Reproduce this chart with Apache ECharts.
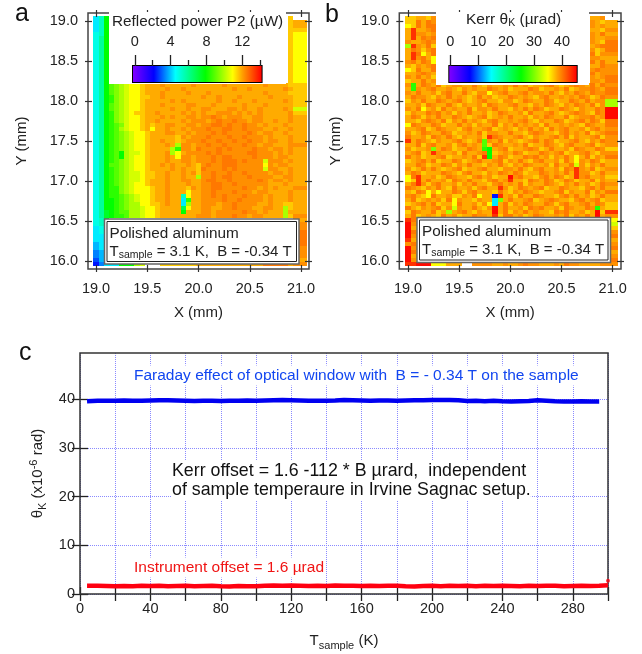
<!DOCTYPE html>
<html><head><meta charset="utf-8"><style>html,body{margin:0;padding:0;background:#fff}#c{width:642px;height:654px}</style>
<script src="https://cdn.jsdelivr.net/npm/echarts@6/dist/echarts.min.js"></script></head>
<body><div id="c"></div>
<script>
// Cell codes: position in this string picks the value in powerLevels / kerrLevels ('.' = no scan data)
const levelCodes = "0123456789abcdefghijklmnopqrs";
const powerLevels = [0,0.5,1,1.5,2,2.5,3,3.5,4,4.5,5,5.5,6,6.5,7,7.5,8,8.5,9,9.5,10,10.5,11,11.6,11.95,12.3,12.6,13.5,14];
const kerrLevels = [0,1.6,3.2,4.8,6.4,8,9.6,11.2,12.8,14.4,16,17.6,19.2,20.8,22.4,24,25.6,27.2,28.8,30.4,32,33.6,35.3,37.2,38.4,39.4,40.4,43.5,45.2];
const HOLE = "..... ..... ..... ..... ..... ..... ";
const BOX  = "..... ..... ..... ..... ..... ..... .... ";

// Panel a: reflected power map, one string per scan row, top row first
const powerRows = [
"9bg.. "+HOLE+"...n.","9bg.. "+HOLE+"...no","9bg.. "+HOLE+"...no","9bg.. "+HOLE+"...nn",
"abg.. "+HOLE+"...nm","acg.. "+HOLE+"...nm","acg.. "+HOLE+"...nm","acg.. "+HOLE+"...nm",
"acg.. "+HOLE+"...nm","acg.. "+HOLE+"...nm","acg.. "+HOLE+"...nm","acg.. "+HOLE+"...nm",
"acg.. "+HOLE+"...nm","acg.. "+HOLE+"...nm","acg.. "+HOLE+"...nm","acg.. "+HOLE+"...nm",
"acg.. "+HOLE+"...nm",
"acgij klmmn ooopo oooop ooooo poooo ooopo ooonn",
"acgij klmmn oooop oopoo ooooo oopoo poooo oopon",
"acgij klmmn ooopo ooopo oopoo ooooo ooopo ooonn",
"acghj klmmn noopo ooooo opoop ooopo oooop oooon",
"acghj klmmn ooooo popoo oooop oopoo opooo oopon",
"acgij klmmn ooopo ooopp ooopo oooop ooopo oooon",
"acgij klmmn ooooo poopo oppoo oppop oopoo oopol",
"acghj klmnn oopoo oopop opoop ppopo popoo ooopn",
"acghj klmmn ooopo poopp oppqp opppo oppoo ooopo",
"acghj klmmn oopoo oopop ppopq ppqpp oppoo poopo",
"acghi jlmmn onoop poopp oppqq pqppq ppopo oopoo",
"acghi klmmn omoop oopop ppqpp qqppq pppoo poopo",
"acghi jklmm nooop poopo pppqp qpppp qpopp oopoo",
"acghi jklmm noooo onpop ppqpp pqppq pppop ooopo",
"acghi jklmm noopo onopp pqppq ppqpp qppop poopo",
"acghi jklmm nooop okppo ppqpp qpppq ppopp ooopp",
"acghi jklmm noooo khppo qpppq pqppp pqppo ppopo",
"acghi gkllm nooop kmopp ppqpq ppppp qqppp opopo",
"acghi gklmm nooop omppo pppqp qqppp pqppp oppoo",
"acghi jklmm nooop ooppo pppqp qqqpq ppplp ppopo",
"acgii jklmm noopo poopo npqpp qqqpp pppmp oppoo",
"acghi jklmm noooo popoo nqppp qpqpp ppplp poopo",
"acghi jkllm nnoop oopop nppqp pqppq ppppo ppopo",
"acghi jkllm nnoop oopoo kppqp qqppp qpppp ooppo",
"acghi jkllm nooop ooppo opqqp pqppp ppqpo ppopo",
"acghi jklmm nooop ooopo oppqq ppqpp ppppo oopoo",
"acghh jklmm mnoop ooonp oppqq ppppq ppopo pooop",
"acghh jklmm mnoop ooomo oppqp ppqpp poppo ooopo",
"acghh ijklm mnoop oobmo oppqp qpppq pppop ooopo",
"acggh ijklm mnoop oo9ho opppp qppqp pppop ooopo",
"acggh ijkkm mnnop oo9ko opppo ppqpp ppoop oonno",
"acggh ijkkl mmnoo ooemo oppoo ppqpp poopp ookno",
"acfgh iikkl mmnoo oogoo oppop ppppq ppopo ookoo",
"acfgh hikkl mmnoo ooooo pppop ppqpp oppoo ooknp",
"abe.. "+BOX+"o","abd.. "+BOX+"p","9ac.. "+BOX+"p","9ac.. "+BOX+"q",
"99c.. "+BOX+"q","99c.. "+BOX+"q","89c.. "+BOX+"q","89c.. "+BOX+"p",
"78c.. "+BOX+"p","78c.. "+BOX+"p","68c.. "+BOX+"o",
"57999 gggkl ...nn nnnnn ooooo ooooo oooqq qqqop"
];

// Panel b: Kerr rotation map, one string per scan row, top row first
const kerrRows = [
"nnoon p"+HOLE+"oop.","nnqoq p"+HOLE+"pono","mnqoq q"+HOLE+"popo","oroop q"+HOLE+"oonp",
"orppo p"+HOLE+"poqo","oroqp q"+HOLE+"poop","poopq p"+HOLE+"ponq","krpoq n"+HOLE+"opqq",
"oqpnp q"+HOLE+"pnoq","orqmo q"+HOLE+"qnpp","orpqo m"+HOLE+"ppoo","pqoqp m"+HOLE+"qoqo",
"onpop q"+HOLE+"ooqp","mnqoo q"+HOLE+"pqpp","oopqp o"+HOLE+"qopp","poqop n"+HOLE+"popq",
"nooqo p"+HOLE+"ppoq",
"phoqp oqnop pooqo npoop oqopn oopqo nopqp oqoqp",
"ohpop qoopo npopo oqpop noooq pnoop oqnop pqpoq",
"poqoo pnpqo oqonp pmopq oopqo ppoqo npoqp oqppq",
"oqppo npoqo ponoq opnoo qpopo npqoo popoq pnoqp",
"npoqo oqpop qonop qoonp pnoqp ooqpn ooqpo qoppk",
"oopnq pooqo npoop nqpoo pqoon poqpo npoqp oqnpk",
"poqmo pnqop ooqnp poqoo npoqo qpnoo qponp ooqps",
"npooq pqopn poqoo pnoqp oopnq oopqo nopqp onqps",
"oqpnp oqooq ponop qnopo qoopn poqpo oqnop pqops",
"oonpq poqnp oqopo npqoo popqo npooq pnopq oqpnq",
"mqpoo qpnoo qopnp ooqnp oqopo pnqoo popon qpooq",
"oopqn oqpoo npqoo pqnop onpoq opnqo pqoop npqop",
"pnoqp ooqpn oopoq nppoo qoonp qpoon pqopo qnopq",
"qoopn qpoqo npoop nrqpo opqon poopq oqnpo opqnp",
"roqpo npoop qonoq ipoqn ponop qoqpn oopqo npoqp",
"ooqnp qoopn pqopo inqpo opoqn ooqpo npqoo pqnop",
"pnoop joqpn ooqpo hgopq noopq pnoqo opnqp ooqpn",
"opqno rpoop nqoop qgnop oqpno oqpop qnoop qonpp",
"qopno opqno opoqn rgoqp nooqp qopnp oqomo qnpoq",
"nopqo qnooq pnopq oopqn poqon pqoop nqomp oqpno",
"ooqpn ooqpn poqoo npoqo npoqp oopnq ooqlp npoqo",
"pnoqo qonop qnoop qoonp poqon pqoop nqprp oqnop",
"oqpno ooqpo npqoo npoqp oqpno oqpop oqorp pnoqo",
"mqroo pnoqp oonpq opnoo spqoo npqoq pnorp qoopn",
"mnroq oopnq poqoo npqop roonq poqpn oqpno oqnpo",
"oqrpn pqoop npoqo onpqo poqnp ooqpo npoqo pnoqp",
"qponp oqonq oopnp qoorp noqpo pqnoo qpoon pqoqo",
"onqpm omooq pnpqo oonqo npoqp onoop qnpoo qnpoq",
"pqonm qoopn npoqm oo5ro pnqoo qpoon pqoqo pnoqo",
"oqnop opnqm poonp oo9jo qoopq nopqp oonpq opqno",
"nopqo qnoom qoopn pm9oq npoqp ooqpn pqoop qoqpn",
"qonpo pqnpl pooqo npsoq oopnq pqoop nqpoo qphon",
"nqpoo qnoko pqonp oosoq npoqo poonq pqoop nosnr",
"oqnop onqop nooqp pornq qopno qpoop oqnpo qosop",
"rqo.. "+BOX+"m","spp.. "+BOX+"l","son.. "+BOX+"n","sqo.. "+BOX+"p",
"spp.. "+BOX+"q","roo.. "+BOX+"o","pqo.. "+BOX+"p","spp.. "+BOX+"q",
"sqo.. "+BOX+"o","sop.. "+BOX+"p","spo.. "+BOX+"q",
"rrsss mmmoo o..pp ppoop oopqp pooop oqppo ooopp"
];

// Panel c: temperature sweep
const tempK = [4,10,15,20,25,30,35,40,45,50,55,60,65,70,75,80,85,90,95,100,105,110,115,120,125,130,135,140,145,150,155,160,165,170,175,180,185,190,195,200,205,210,215,220,225,230,235,240,245,250,255,260,265,270,275,280,285,290,295];
const faradayUrad = [39.6,39.7,39.7,39.7,39.75,39.7,39.7,39.75,39.8,39.8,39.75,39.7,39.65,39.7,39.7,39.65,39.7,39.7,39.75,39.7,39.75,39.8,39.85,39.8,39.75,39.7,39.7,39.7,39.75,39.85,39.8,39.75,39.7,39.75,39.75,39.7,39.75,39.8,39.8,39.85,39.85,39.85,39.8,39.65,39.7,39.6,39.7,39.6,39.55,39.6,39.65,39.8,39.7,39.6,39.55,39.55,39.6,39.55,39.55];
const offsetUrad = [1.7,1.7,1.65,1.6,1.65,1.6,1.7,1.65,1.7,1.6,1.65,1.7,1.6,1.65,1.7,1.6,1.55,1.65,1.6,1.6,1.7,1.75,1.7,1.75,1.7,1.65,1.7,1.65,1.75,1.7,1.7,1.65,1.7,1.65,1.7,1.7,1.6,1.55,1.65,1.7,1.6,1.7,1.65,1.7,1.6,1.7,1.65,1.7,1.65,1.6,1.7,1.65,1.7,1.7,1.6,1.65,1.7,1.65,1.7];
const offsetEnd = [[300,1.8]];
const offsetMark = [[300,2.7]];

const mmXTicks = [19,19.5,20,20.5,21];
const mmYTicks = [16,16.5,17,17.5,18,18.5,19];
const powerBarMajor = [0,4,8,12];
const powerBarMinor = [2,6,10,14];
const kerrBarMajor = [0,10,20,30,40];
const yTicksC = [0,10,20,30,40];

const powerFull = 14.2, kerrFull = 45.6;
const colourStops = [[0,'#8000ff'],[0.162,'#0000ff'],[0.33,'#00ffff'],[0.563,'#00ff00'],[0.775,'#ffff00'],[0.85,'#ffa000'],[1,'#ff0000']];
const hex = s => [1,3,5].map(i => parseInt(s.substr(i,2),16));
function colourAt(t){
  t = Math.max(0, Math.min(1, t));
  for (let i = 1; i < colourStops.length; i++) {
    if (t <= colourStops[i][0]) {
      const [t0,c0] = colourStops[i-1], [t1,c1] = colourStops[i];
      const f = (t-t0)/(t1-t0), a = hex(c0), b = hex(c1);
      return 'rgb(' + a.map((v,k) => Math.round(v+(b[k]-v)*f)).join(',') + ')';
    }
  }
  return '#ff0000';
}

const X0 = 18.975, CW = 0.05, STRIP_W = 0.13, Y0 = 19.066, RH = 3.125/63;
function cells(rows, levels){
  const out = [];
  rows.forEach((row, r) => {
    const s = row.replace(/ /g,'');
    for (let c = 0; c < s.length; c++) {
      if (s[c] === '.') continue;
      const xa = X0 + c*CW, xb = c === 39 ? xa + STRIP_W : xa + CW;
      out.push([xa, xb, Y0-(r+1)*RH, Y0-r*RH, levels[levelCodes.indexOf(s[c])]]);
    }
  });
  return out;
}
const heat = full => (params, api) => {
  const a = api.coord([api.value(0), api.value(3)]), b = api.coord([api.value(1), api.value(2)]);
  const x = Math.round(a[0]), y = Math.round(a[1]);
  return {type:'rect', shape:{x, y, width:Math.round(b[0])-x, height:Math.round(b[1])-y},
          style:{fill:colourAt(api.value(4)/full)}};
};
const barItem = (params, api) => {
  const a = api.coord([api.value(0),1]), b = api.coord([api.value(1),0]);
  return {type:'rect', shape:{x:a[0],y:a[1],width:b[0]-a[0],height:b[1]-a[1]},
    style:{fill:new echarts.graphic.LinearGradient(0,0,1,0,colourStops.map(([offset,color])=>({offset,color})))}};
};

const FONT = '"Liberation Sans", Arial, sans-serif', INK = '#222';
const lab = {fontFamily:FONT, fontSize:14.5, color:INK};
const tl = {color:'#333', width:1.2};
const xAxes = [], yAxes = [], grids = [], series = [];

function mapPanel(left, width, xMin, xMax, rows, levels, full, yGap){
  const g = grids.length;
  grids.push({left, top:13, width, height:256, show:true, borderColor:'#444', borderWidth:1.5, z:3, backgroundColor:'transparent'});
  const xi = xAxes.length, yi = yAxes.length;
  const xa = (position, show) => ({type:'value', gridIndex:g, position, min:xMin, max:xMax, offset:3, z:4,
    splitLine:{show:false}, axisLine:{show:false},
    axisTick:{inside:true, length:7, lineStyle:tl, customValues:mmXTicks},
    axisLabel:{show, margin:9, ...lab, customValues:mmXTicks, formatter:v=>v.toFixed(1)},
    name:show?'X (mm)':'', nameLocation:'middle', nameGap:33, nameTextStyle:{fontFamily:FONT,fontSize:15,color:INK}});
  const ya = (position, show) => ({type:'value', gridIndex:g, position, min:15.9, max:19.104, offset:3, z:4,
    splitLine:{show:false}, axisLine:{show:false},
    axisTick:{inside:true, length:7, lineStyle:tl, customValues:mmYTicks},
    axisLabel:{show, margin:7, ...lab, customValues:mmYTicks, formatter:v=>v.toFixed(1)},
    name:show?'Y (mm)':'', nameLocation:'middle', nameGap:yGap, nameTextStyle:{fontFamily:FONT,fontSize:15,color:INK}});
  xAxes.push(xa('bottom',true), xa('top',false));
  yAxes.push(ya('left',true), ya('right',false));
  series.push({type:'custom', xAxisIndex:xi, yAxisIndex:yi, renderItem:heat(full), data:cells(rows,levels),
    encode:{x:[0,1],y:[2,3]}, clip:false, z:2, silent:true, progressive:0, animation:false});
}
function barPanel(left, width, min, max, major, minor){
  const g = grids.length;
  grids.push({left, top:66, width, height:16, show:true, borderColor:'#000', borderWidth:2, z:10, backgroundColor:'transparent'});
  const xi = xAxes.length, yi = yAxes.length;
  const base = {type:'value', gridIndex:g, position:'top', min, max, z:11, splitLine:{show:false}, axisLine:{show:false}};
  const tick = {color:'#222', width:1.3};
  xAxes.push({...base, axisTick:{show:false}, axisLabel:{margin:17, ...lab, customValues:major}});
  xAxes.push({...base, axisTick:{length:11, lineStyle:tick, customValues:major}, axisLabel:{show:false}});
  if (minor) xAxes.push({...base, axisTick:{length:6, lineStyle:tick, customValues:minor}, axisLabel:{show:false}});
  yAxes.push({type:'value', gridIndex:g, min:0, max:1, show:false});
  series.push({type:'custom', xAxisIndex:xi, yAxisIndex:yi, renderItem:barItem, data:[[min,max]],
    encode:{x:[0,1]}, clip:false, z:12, silent:true, animation:false});
}

mapPanel(88, 221, 18.922, 21.078, powerRows, powerLevels, powerFull, 56);
barPanel(133, 128.6, -0.2, 14.15, powerBarMajor, powerBarMinor);
mapPanel(399.3, 221.7, 18.915, 21.081, kerrRows, kerrLevels, kerrFull, 53);
barPanel(449.3, 127.4, -0.36, 45.3, kerrBarMajor, null);

// Panel c
const gc = grids.length;
grids.push({left:80, top:353, width:528, height:241, show:true, borderColor:'#333', borderWidth:1.5, z:3, backgroundColor:'transparent'});
const xc = xAxes.length, yc = yAxes.length;
const gridLine = () => ({show:true, lineStyle:{type:[1,1], color:'#8a8aff', width:1}});
const cx = (position, show) => ({type:'value', gridIndex:gc, position, min:0, max:300, interval:20, z:1,
  splitLine:position==='bottom'?gridLine():{show:false}, axisLine:{show:false},
  axisTick:{inside:true, length:7, lineStyle:{color:'#222',width:1.3}},
  axisLabel:{show, margin:7, ...lab, formatter:v=>(v%40===0&&v<300)?String(v):''},
  name:show?'T{s|sample} (K)':'', nameLocation:'middle', nameGap:37,
  nameTextStyle:{fontFamily:FONT,fontSize:15,color:INK,rich:{s:{fontFamily:FONT,fontSize:11,color:INK,verticalAlign:'bottom',lineHeight:20}}}});
const cy = (position, show) => ({type:'value', gridIndex:gc, position, min:0, max:49.5, z:1,
  splitLine:position==='left'?gridLine():{show:false}, axisLine:{show:false},
  axisTick:{inside:true, length:8, lineStyle:{color:'#222',width:1.3}, customValues:yTicksC},
  axisLabel:{show, margin:5, ...lab, customValues:yTicksC},
  name:show?'θ{s|K} (x10{u|-6} rad)':'', nameLocation:'middle', nameGap:28, nameTextStyle:{fontFamily:FONT,fontSize:15,color:INK,
    rich:{s:{fontFamily:FONT,fontSize:11,color:INK,verticalAlign:'bottom',lineHeight:20},u:{fontFamily:FONT,fontSize:11,color:INK,verticalAlign:'top',lineHeight:20}}}});
xAxes.push(cx('bottom',true), cx('top',false));
yAxes.push(cy('left',true), cy('right',false));
const lineOf = (xs, ys, color, extra) => ({type:'line', xAxisIndex:xc, yAxisIndex:yc, showSymbol:false, clip:false, z:6,
  lineStyle:{color, width:4.5}, itemStyle:{color}, animation:false, silent:true,
  data:xs.map((x,i)=>[x,ys[i]]).concat(extra||[])});
series.push(lineOf(tempK, faradayUrad, '#0000f0'));
series.push(lineOf(tempK, offsetUrad, '#ff0010', offsetEnd));
series.push({type:'scatter', xAxisIndex:xc, yAxisIndex:yc, data:offsetMark, symbolSize:4, clip:false, z:6, itemStyle:{color:'#ff0010'}, silent:true, animation:false});

// Text and boxes
const txt = (x, y, text, o={}) => ({type:'text', x, y, z:o.z||30, style:Object.assign({text, fontFamily:FONT, fontSize:15, fill:INK, verticalAlign:'middle', align:'left'}, o.style||{})});
const subRich = fs => ({m:{fontFamily:FONT,fontSize:fs,fill:INK,color:INK,lineHeight:18},
                 sub:{fontFamily:FONT,fontSize:10.5,fill:INK,color:INK,verticalAlign:'bottom',lineHeight:18}});
const noteBox = (x,y,w,h) => [
  {type:'rect', z:25, shape:{x,y,width:w,height:h}, style:{fill:'#fff',stroke:'#666',lineWidth:1.5}},
  {type:'rect', z:26, shape:{x:x+2.5,y:y+2.5,width:w-5,height:h-5}, style:{fill:'#fff',stroke:'#222',lineWidth:1}},
  txt(x+5, y+14.5, 'Polished aluminum', {style:{fontSize:15.3}}),
  txt(x+5, y+32.5, '{m|T}{sub|sample}{m| = 3.1 K,  B = -0.34 T}', {style:{rich:subRich(15)}})
];
const graphic = [
  {type:'rect', z:8, shape:{x:109,y:12,width:177,height:72}, style:{fill:'#fff'}},
  {type:'rect', z:8, shape:{x:436,y:12,width:153,height:73}, style:{fill:'#fff'}},
  txt(112, 22, 'Reflected power P2 (µW)', {style:{fontSize:15.3}}),
  txt(466, 20, '{m|Kerr θ}{sub|K}{m| (µrad)}', {style:{rich:subRich(15.5)}}),
  ...noteBox(104.5,219,194.5,45), ...noteBox(417,217.5,193.5,45),
  txt(15, 14, 'a', {style:{fontSize:25,fill:'#111'}}),
  txt(325, 15, 'b', {style:{fontSize:25,fill:'#111'}}),
  txt(19, 353, 'c', {style:{fontSize:25,fill:'#111'}}),
  txt(134, 375.5, 'Faraday effect of optical window with  B = - 0.34 T on the sample', {style:{fill:'#1246f0',fontSize:15.5,backgroundColor:'#fff',padding:[2,0]}}),
  txt(172, 471, 'Kerr offset = 1.6 -112 * B µrard,  independent', {style:{fontSize:17.8,fill:'#111',backgroundColor:'#fff',padding:[1,0]}}),
  txt(172, 490.5, 'of sample temperaure in Irvine Sagnac setup.', {style:{fontSize:17.8,fill:'#111',backgroundColor:'#fff',padding:[1,0]}}),
  txt(134, 567.5, 'Instrument offset = 1.6 µrad', {style:{fill:'#f01414',fontSize:15.5,backgroundColor:'#fff',padding:[2,0]}})
];

const chart = echarts.init(document.getElementById('c'), null, {renderer:'canvas'});
chart.setOption({animation:false, backgroundColor:'#fff', grid:grids, xAxis:xAxes, yAxis:yAxes, series, graphic:{elements:graphic}});
</script></body></html>
